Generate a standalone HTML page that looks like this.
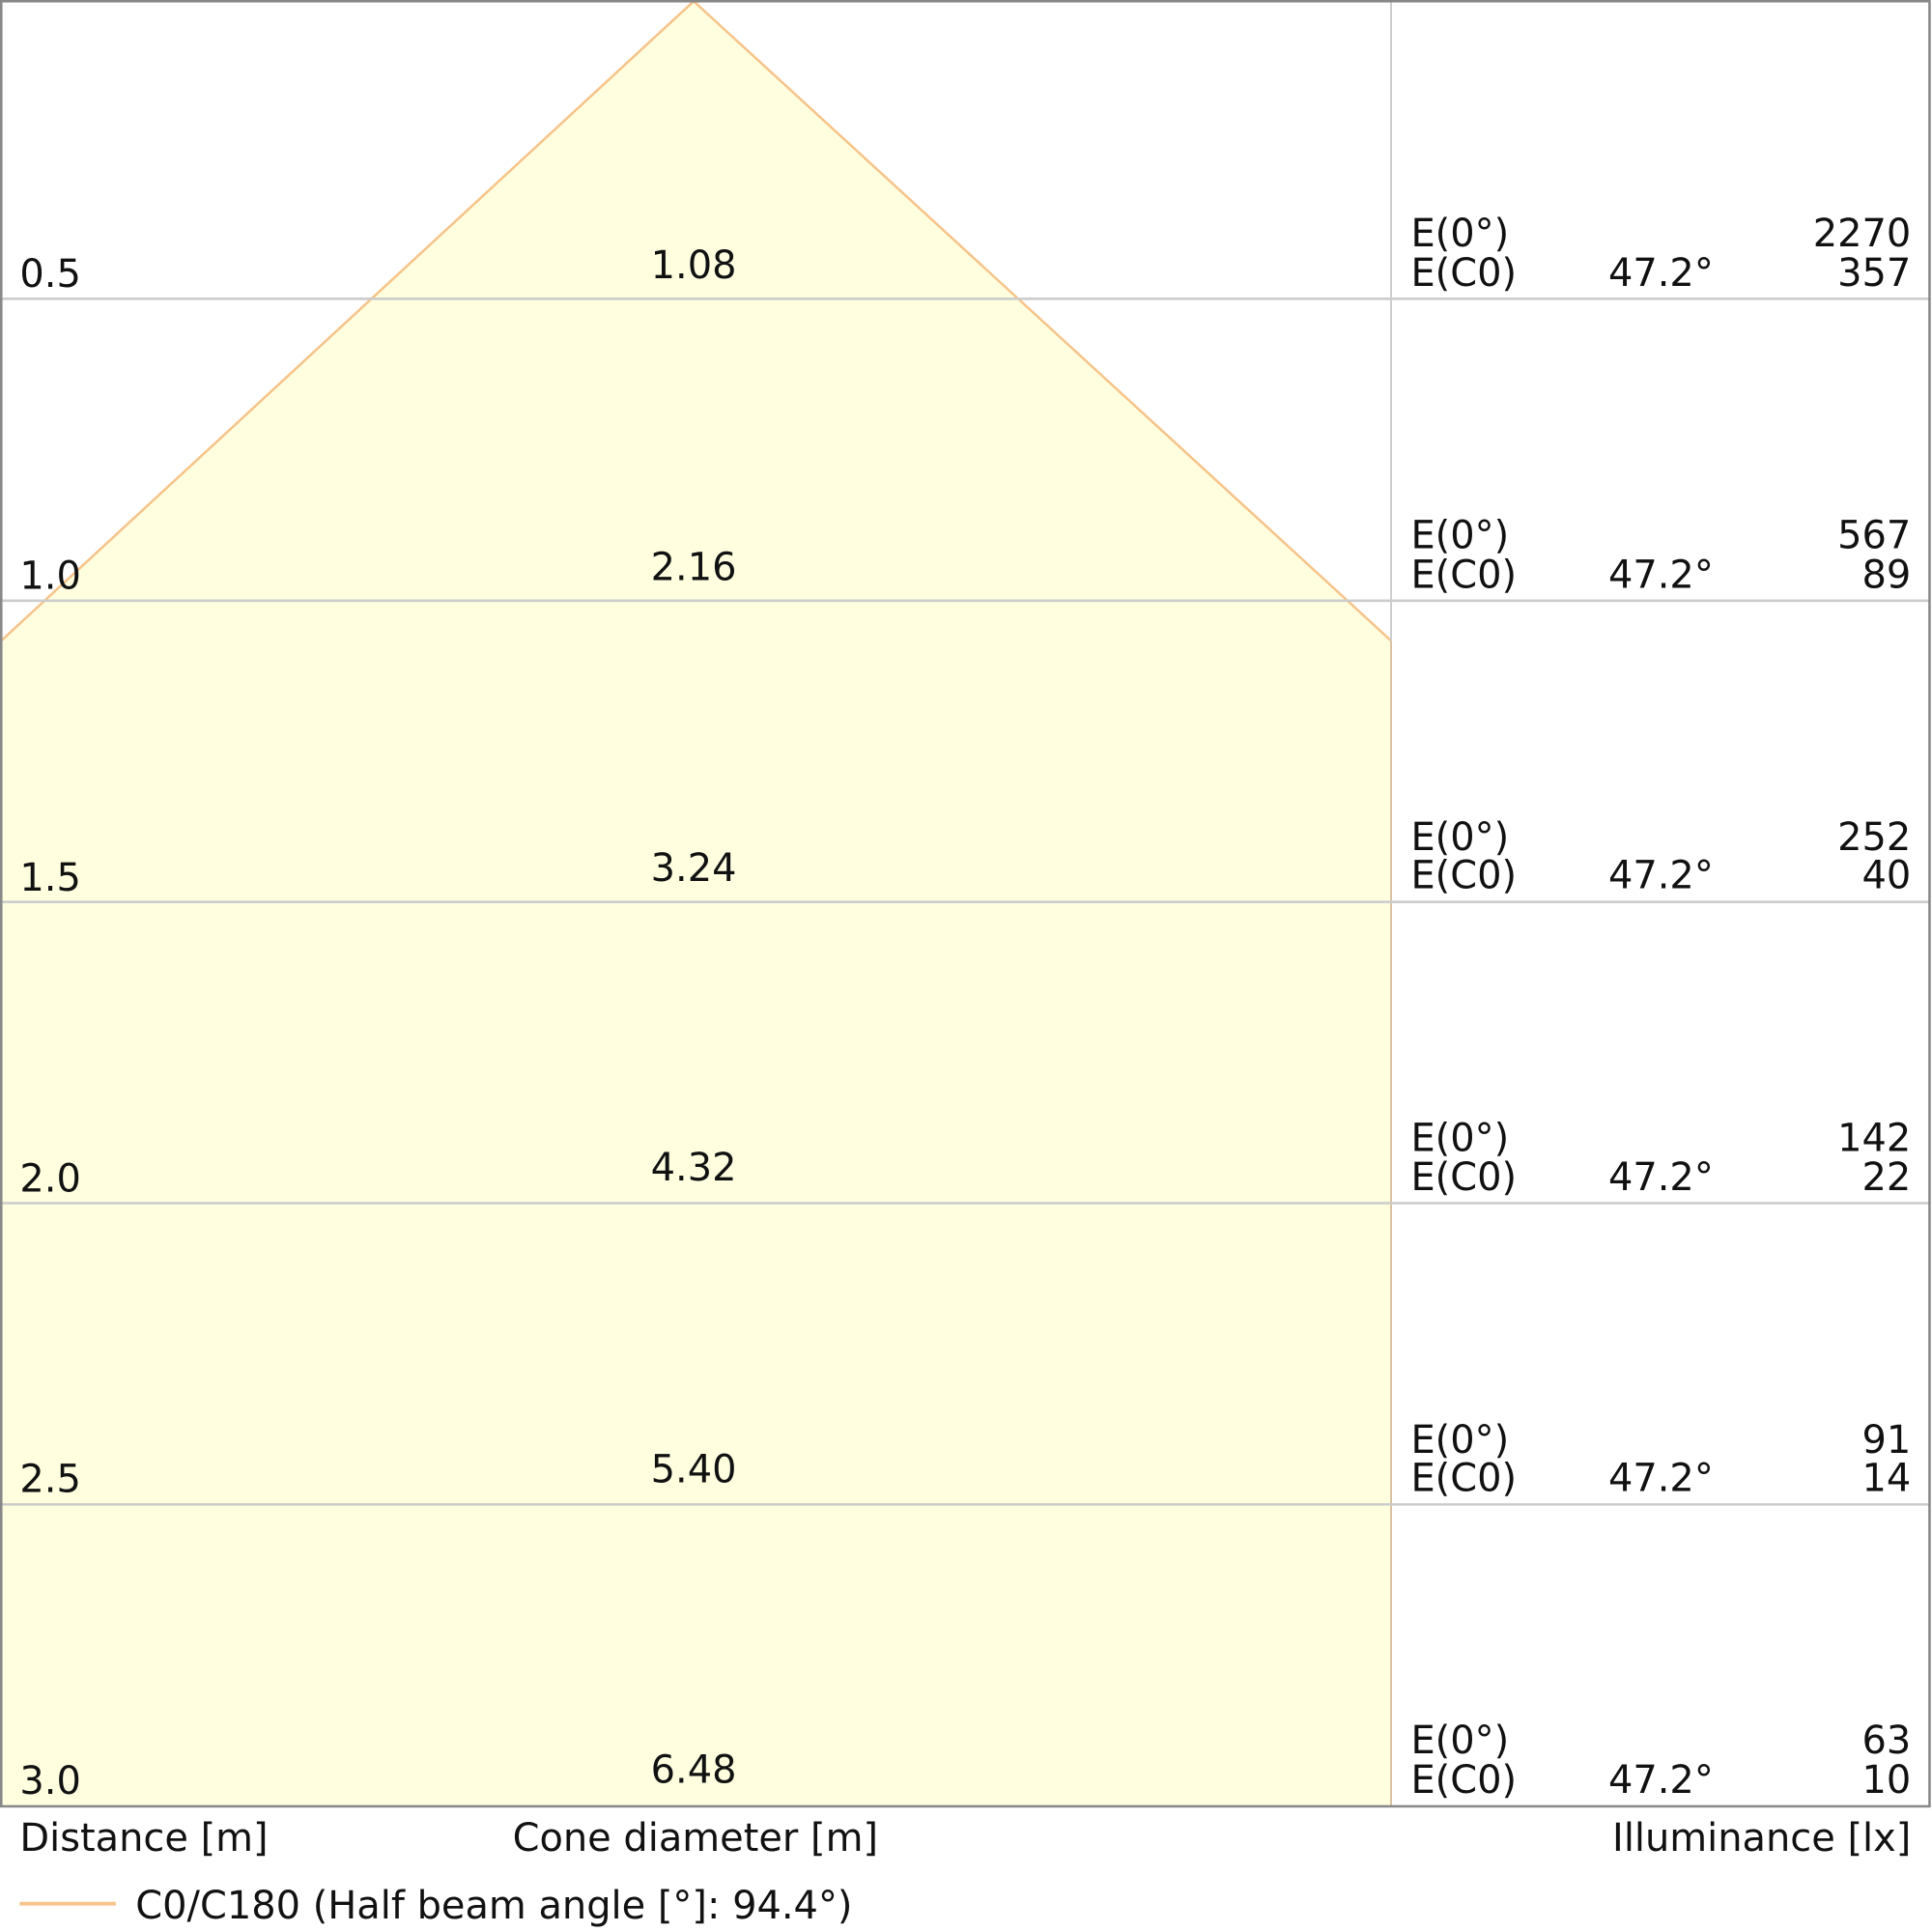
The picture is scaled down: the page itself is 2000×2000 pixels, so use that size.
<!DOCTYPE html>
<html><head><meta charset="utf-8"><style>html,body{margin:0;padding:0;background:#fff}svg{display:block}</style></head>
<body>
<svg width="2000" height="2000" viewBox="0 0 1568 1568" xmlns="http://www.w3.org/2000/svg" font-family="DejaVu Sans, Liberation Sans, sans-serif" font-size="31.3" fill="#111">
<rect x="0" y="0" width="1568" height="1568" fill="#fff"/>
<polygon points="1,520 563,1 1129,520 1129,1466 1,1466" fill="#ffffe0"/>
<polyline points="1,520 563,1 1129,520" fill="none" stroke="#f7c48a" stroke-width="2"/>
<line x1="1129" y1="520" x2="1129" y2="1466" stroke="#d8c0a0" stroke-width="1.5"/>
<line x1="1129" y1="1" x2="1129" y2="520" stroke="#ccc" stroke-width="1.5"/>
<g stroke="#cccccc" stroke-width="2">
<line x1="1" y1="242.5" x2="1566" y2="242.5"/>
<line x1="1" y1="487.5" x2="1566" y2="487.5"/>
<line x1="1" y1="732" x2="1566" y2="732"/>
<line x1="1" y1="976.5" x2="1566" y2="976.5"/>
<line x1="1" y1="1221" x2="1566" y2="1221"/>
</g>
<rect x="1" y="1" width="1565" height="1465" fill="none" stroke="#888" stroke-width="2"/>
<g>
<text x="16" y="233">0.5</text><text x="563" y="226" text-anchor="middle">1.08</text>
<text x="1145" y="200">E(0°)</text><text x="1145" y="232">E(C0)</text><text x="1348" y="232" text-anchor="middle">47.2°</text><text x="1551" y="200" text-anchor="end">2270</text><text x="1551" y="232" text-anchor="end">357</text>

<text x="16" y="478">1.0</text><text x="563" y="471" text-anchor="middle">2.16</text>
<text x="1145" y="445">E(0°)</text><text x="1145" y="477">E(C0)</text><text x="1348" y="477" text-anchor="middle">47.2°</text><text x="1551" y="445" text-anchor="end">567</text><text x="1551" y="477" text-anchor="end">89</text>

<text x="16" y="723">1.5</text><text x="563" y="715" text-anchor="middle">3.24</text>
<text x="1145" y="690">E(0°)</text><text x="1145" y="721">E(C0)</text><text x="1348" y="721" text-anchor="middle">47.2°</text><text x="1551" y="690" text-anchor="end">252</text><text x="1551" y="721" text-anchor="end">40</text>

<text x="16" y="967">2.0</text><text x="563" y="958" text-anchor="middle">4.32</text>
<text x="1145" y="934">E(0°)</text><text x="1145" y="966">E(C0)</text><text x="1348" y="966" text-anchor="middle">47.2°</text><text x="1551" y="934" text-anchor="end">142</text><text x="1551" y="966" text-anchor="end">22</text>

<text x="16" y="1211">2.5</text><text x="563" y="1203" text-anchor="middle">5.40</text>
<text x="1145" y="1179">E(0°)</text><text x="1145" y="1210">E(C0)</text><text x="1348" y="1210" text-anchor="middle">47.2°</text><text x="1551" y="1179" text-anchor="end">91</text><text x="1551" y="1210" text-anchor="end">14</text>

<text x="16" y="1456">3.0</text><text x="563" y="1447" text-anchor="middle">6.48</text>
<text x="1145" y="1423">E(0°)</text><text x="1145" y="1455">E(C0)</text><text x="1348" y="1455" text-anchor="middle">47.2°</text><text x="1551" y="1423" text-anchor="end">63</text><text x="1551" y="1455" text-anchor="end">10</text>

<text x="16" y="1502">Distance [m]</text>
<text x="416" y="1502">Cone diameter [m]</text>
<text x="1551" y="1502" text-anchor="end">Illuminance [lx]</text>
<line x1="16" y1="1545" x2="94" y2="1545" stroke="#f7c48a" stroke-width="3"/>
<text x="110" y="1557">C0/C180 (Half beam angle [°]: 94.4°)</text>
</g>
</svg>
</body></html>
